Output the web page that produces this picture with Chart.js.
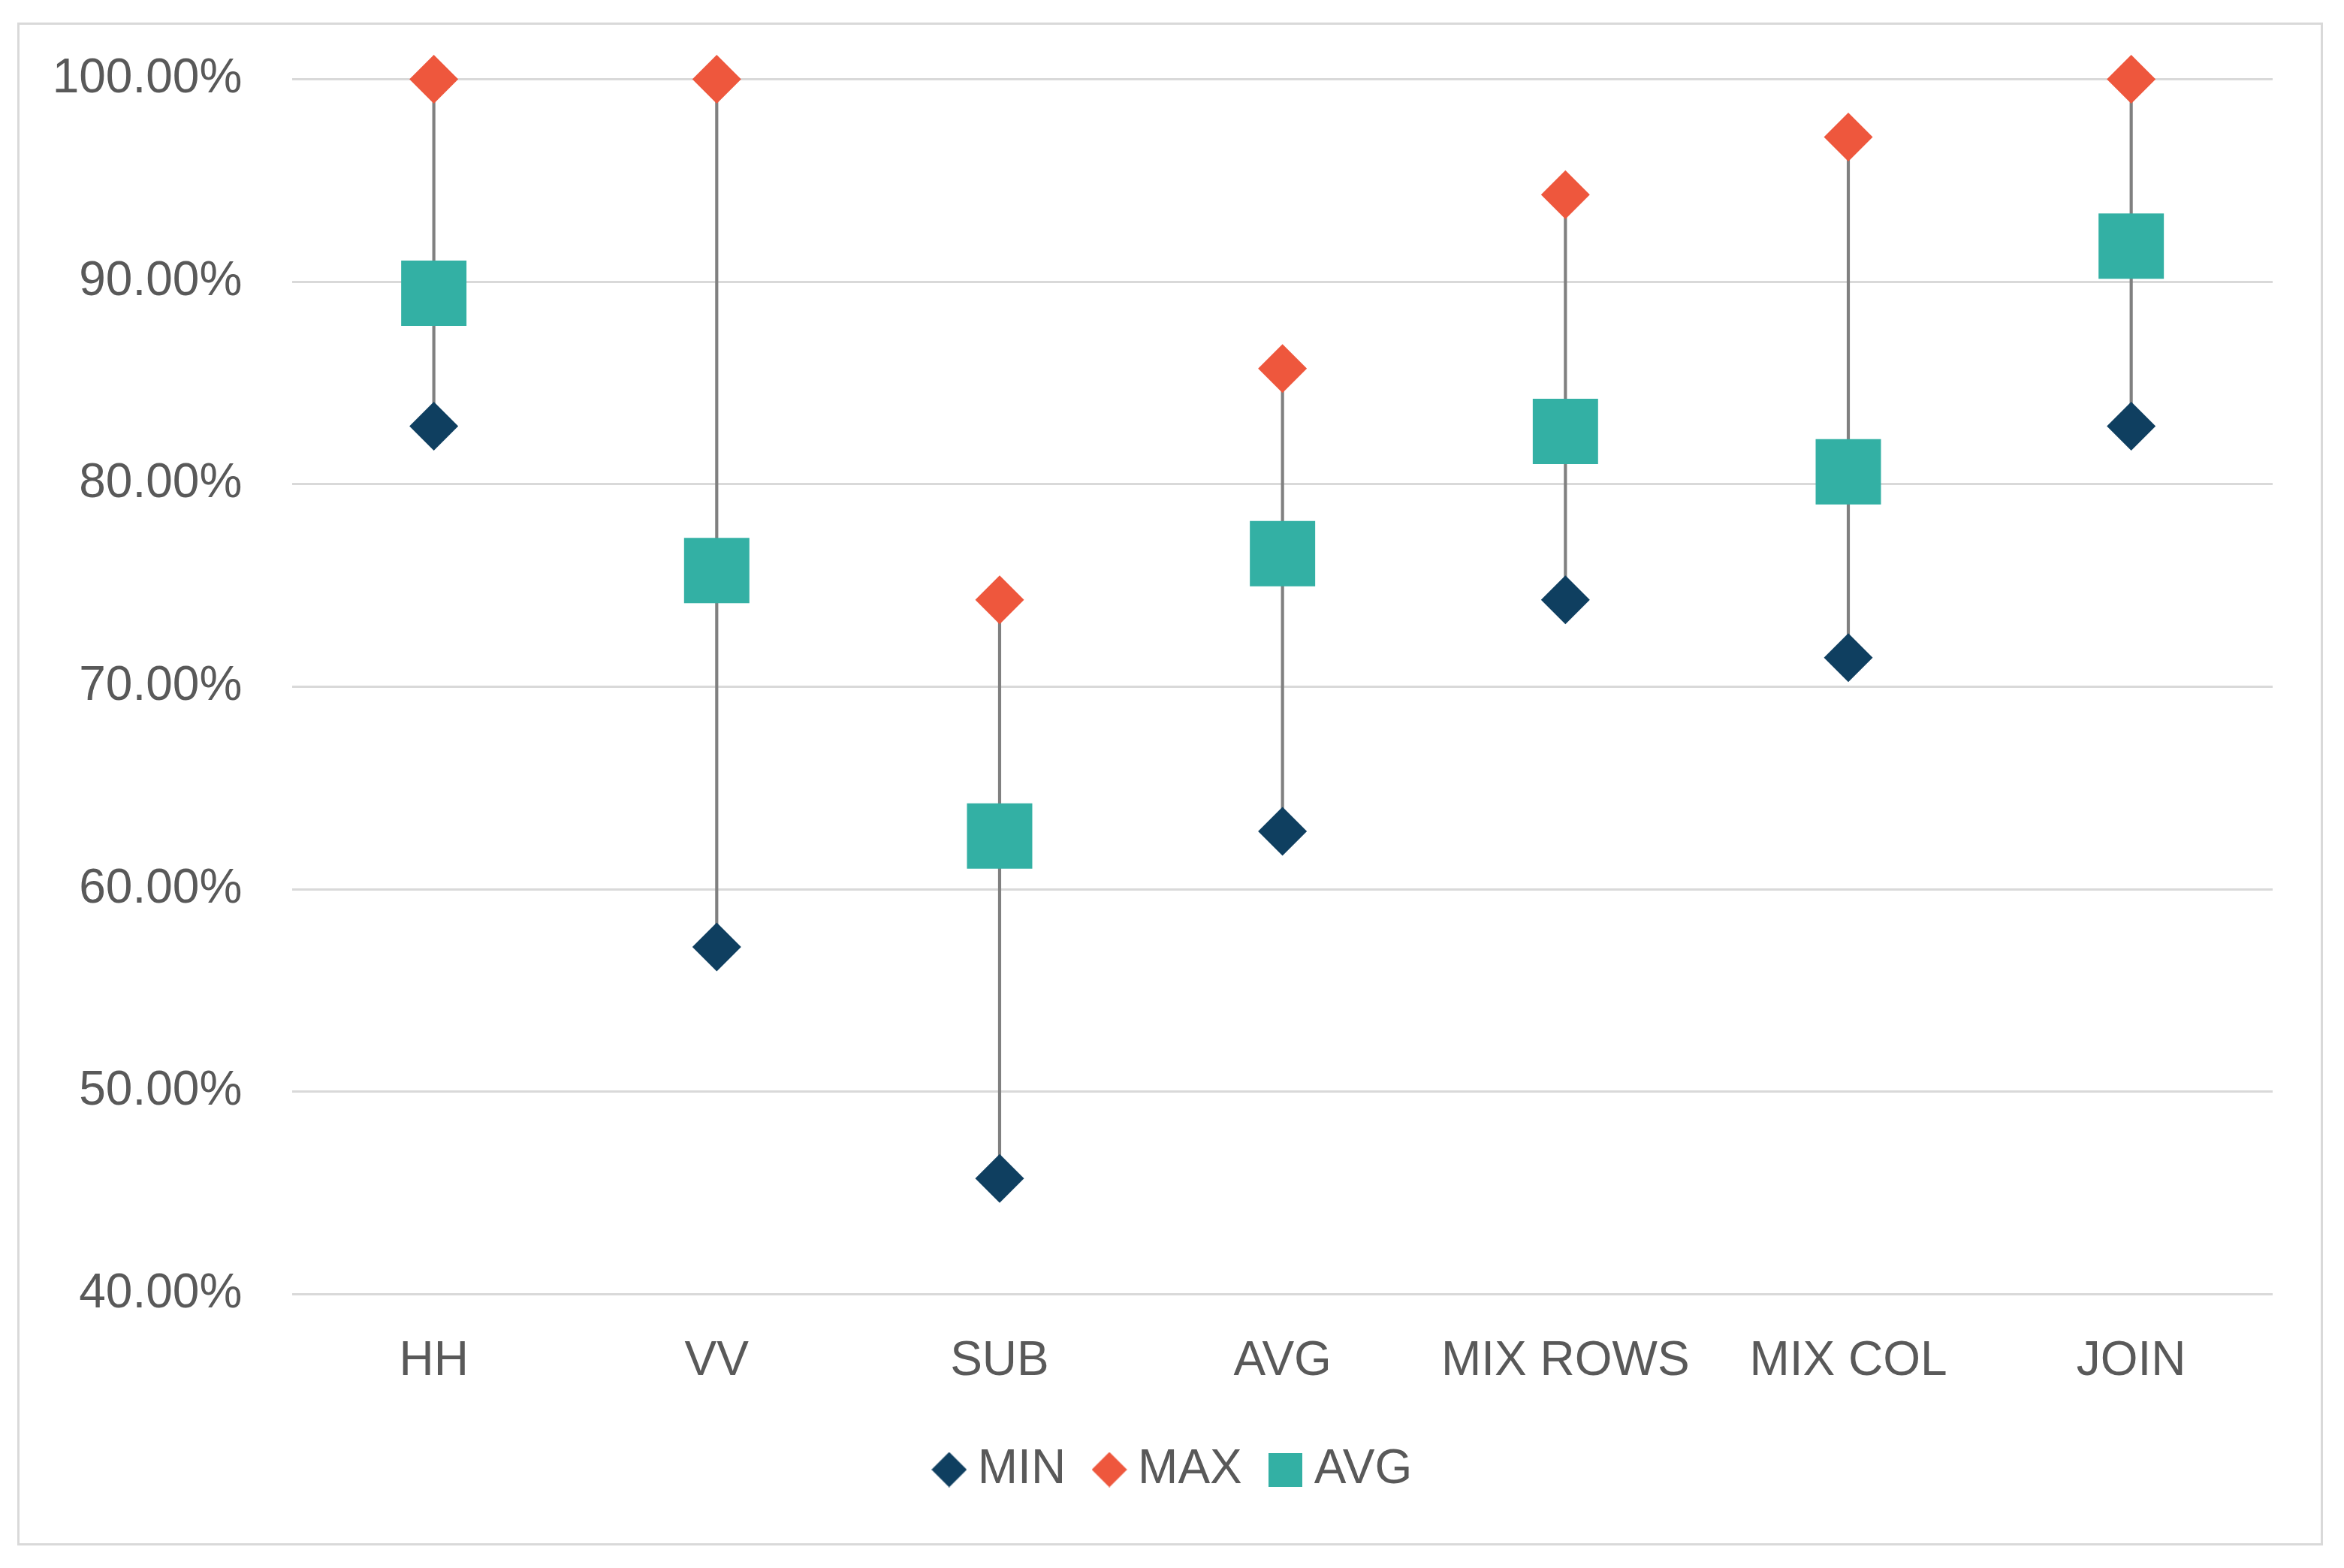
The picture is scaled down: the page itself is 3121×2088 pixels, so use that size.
<!DOCTYPE html>
<html>
<head>
<meta charset="utf-8">
<script src="https://cdn.jsdelivr.net/npm/chart.js@4/dist/chart.umd.min.js"></script>
<style>
  html, body { margin: 0; padding: 0; background: #ffffff; }
  #wrap { position: relative; width: 3121px; height: 2088px; overflow: hidden; }
  #c { position: absolute; left: 0; top: 0; }
  #frame { position: absolute; left: 23px; top: 30px; width: 3070px; height: 2028px;
           border: 3px solid #d9d9d9; box-sizing: border-box; pointer-events: none; }
</style>
</head>
<body>
<div id="wrap">
  <canvas id="c" width="3121" height="2088"></canvas>
  <div id="frame"></div>
</div>
<script>
// ---- data ----
const categories = ['HH', 'VV', 'SUB', 'AVG', 'MIX ROWS', 'MIX COL', 'JOIN'];
const minValues  = [82.86, 57.14, 45.71, 62.86, 74.29, 71.43, 82.86];
const maxValues  = [100.00, 100.00, 74.29, 85.71, 94.29, 97.14, 100.00];
const avgValues  = [89.43, 75.73, 62.62, 76.57, 82.60, 80.61, 91.75];
const seriesNames = ['MIN', 'MAX', 'AVG'];
const yTicks = [40, 50, 60, 70, 80, 90, 100];

// ---- styles ----
const COL_MIN = '#0F3F60';
const COL_MAX = '#EE573D';
const COL_AVG = '#33B0A4';
const COL_WHISKER = '#808080';
const COL_TEXT = '#595959';
const COL_GRID = '#d9d9d9';
const FONT = "'Liberation Sans', Arial, sans-serif";
const FS = 64;

function legendIcon(kind, color) {
  const cv = document.createElement('canvas');
  const s = kind === 'diamond' ? 47 : 45;
  cv.width = s; cv.height = s;
  const g = cv.getContext('2d');
  g.fillStyle = color;
  g.beginPath();
  if (kind === 'diamond') {
    g.moveTo(s / 2, 0); g.lineTo(s, s / 2); g.lineTo(s / 2, s); g.lineTo(0, s / 2);
    g.closePath();
  } else {
    g.rect(0, 0, s, s);
  }
  g.fill();
  return cv;
}
const icons = [legendIcon('diamond', COL_MIN), legendIcon('diamond', COL_MAX), legendIcon('square', COL_AVG)];

const whiskerData = categories.map((_, i) => [minValues[i], maxValues[i]]);

Chart.defaults.font.family = FONT;
Chart.defaults.font.size = FS;
Chart.defaults.color = COL_TEXT;

new Chart(document.getElementById('c'), {
  type: 'bar',
  data: {
    labels: categories,
    datasets: [
      {
        type: 'line', label: seriesNames[0], data: minValues, showLine: false,
        pointStyle: 'rectRot', pointRadius: 32.5, pointHoverRadius: 32.5,
        pointBackgroundColor: COL_MIN, pointBorderWidth: 0, borderColor: COL_MIN,
        order: 2, clip: false, yAxisID: 'y'
      },
      {
        type: 'line', label: seriesNames[1], data: maxValues, showLine: false,
        pointStyle: 'rectRot', pointRadius: 32.5, pointHoverRadius: 32.5,
        pointBackgroundColor: COL_MAX, pointBorderWidth: 0, borderColor: COL_MAX,
        order: 2, clip: false, yAxisID: 'y'
      },
      {
        type: 'line', label: seriesNames[2], data: avgValues, showLine: false,
        pointStyle: 'rect', pointRadius: 61.5, pointHoverRadius: 61.5,
        pointBackgroundColor: COL_AVG, pointBorderWidth: 0, borderColor: COL_AVG,
        order: 1, clip: false, yAxisID: 'y'
      },
      {
        type: 'bar', label: 'range', data: whiskerData,
        backgroundColor: COL_WHISKER, borderWidth: 0, barThickness: 3.5,
        order: 5, clip: false, yAxisID: 'y'
      }
    ]
  },
  options: {
    responsive: false,
    devicePixelRatio: 1,
    animation: false,
    events: [],
    layout: { padding: { top: 105.3, left: 24, right: 7, bottom: 89 } },
    scales: {
      x: {
        type: 'category',
        offset: true,
        grid: { display: false, drawTicks: false },
        border: { display: false },
        ticks: { padding: 52, color: COL_TEXT, font: { size: FS, family: FONT }, maxRotation: 0, autoSkip: false },
        afterFit: (s) => { s.height = 149.7; }
      },
      y: {
        type: 'linear',
        position: 'left',
        min: 40, max: 100,
        afterBuildTicks: (s) => { s.ticks = yTicks.map(v => ({ value: v })); },
        grid: { color: COL_GRID, lineWidth: 3, drawTicks: false },
        border: { display: false },
        ticks: {
          padding: 67, color: COL_TEXT, font: { size: FS, family: FONT },
          callback: (v) => Number(v).toFixed(2) + '%'
        },
        afterFit: (s) => { s.width = 365.3; }
      },
      yR: {
        type: 'linear',
        position: 'right',
        min: 40, max: 100,
        grid: { display: false, drawTicks: false },
        border: { display: false },
        ticks: { display: false },
        afterFit: (s) => { s.width = 88; }
      }
    },
    plugins: {
      tooltip: { enabled: false },
      title: { display: false },
      legend: {
        display: true,
        position: 'bottom',
        align: 'center',
        labels: {
          usePointStyle: true,
          pointStyleWidth: 12,
          padding: 52,
          color: COL_TEXT,
          font: { size: FS, family: FONT },
          generateLabels: (chart) => seriesNames.map((name, i) => ({
            text: name,
            fillStyle: [COL_MIN, COL_MAX, COL_AVG][i],
            strokeStyle: 'rgba(0,0,0,0)',
            lineWidth: 0,
            pointStyle: icons[i],
            hidden: false,
            datasetIndex: i,
            fontColor: COL_TEXT
          }))
        }
      }
    }
  }
});
</script>
</body>
</html>
